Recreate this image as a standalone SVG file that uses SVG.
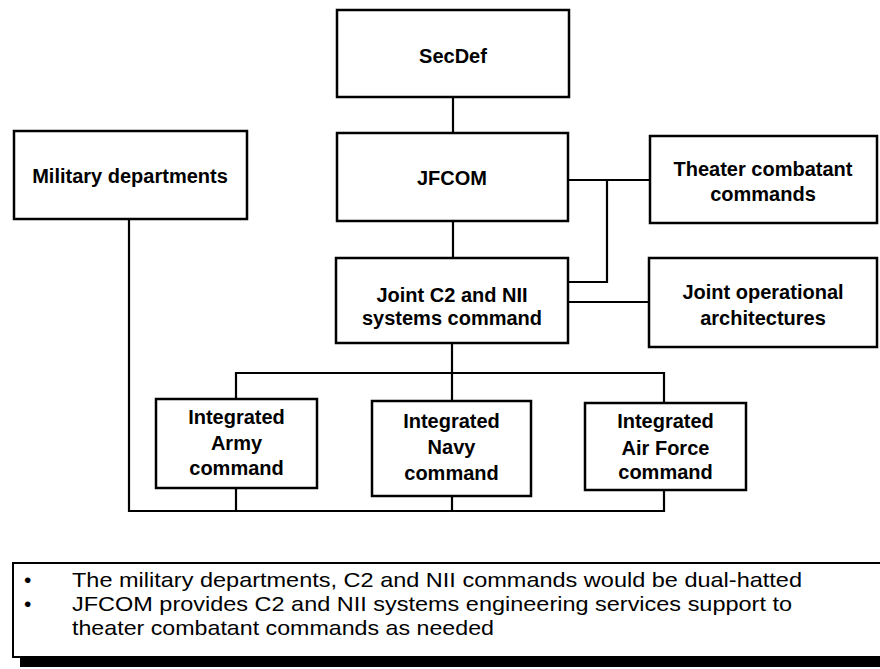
<svg xmlns="http://www.w3.org/2000/svg" width="880" height="669" viewBox="0 0 880 669">
<style>
.box{fill:#fff;stroke:#000;stroke-width:2.5}
.lbl{font-family:"Liberation Sans",Arial,sans-serif;font-weight:bold;font-size:20px;text-anchor:middle;fill:#000}
.note{font-family:"Liberation Sans",Arial,sans-serif;font-size:21px;fill:#000}
.conn{fill:none;stroke:#000;stroke-width:2.2}
</style>
<rect width="880" height="669" fill="#fff"/>
<g id="connectors">
<path class="conn" d="M453,97 V133"/>
<path class="conn" d="M453,221 V258"/>
<path class="conn" d="M568,180 H650"/>
<path class="conn" d="M607,180 V282 H568"/>
<path class="conn" d="M568,302 H649"/>
<path class="conn" d="M452,343 V401"/>
<path class="conn" d="M236,399 V373 H664 V403"/>
<path class="conn" d="M129,219 V511 H664 V490"/>
<path class="conn" d="M236,488 V511"/>
<path class="conn" d="M452,496 V511"/>
</g>
<g id="secdef">
<rect class="box" x="337" y="10" width="232" height="87"/>
<text class="lbl" x="453" y="63">SecDef</text>
</g>
<g id="jfcom">
<rect class="box" x="337" y="133" width="231" height="88"/>
<text class="lbl" x="452" y="185">JFCOM</text>
</g>
<g id="military">
<rect class="box" x="14" y="131" width="233" height="88"/>
<text class="lbl" x="130" y="183">Military departments</text>
</g>
<g id="theater">
<rect class="box" x="650" y="136" width="227" height="87"/>
<text class="lbl" x="763" y="176">Theater combatant</text>
<text class="lbl" x="763" y="201">commands</text>
</g>
<g id="jointc2">
<rect class="box" x="336" y="258" width="232" height="85"/>
<text class="lbl" x="452" y="302">Joint C2 and NII</text>
<text class="lbl" x="452" y="325">systems command</text>
</g>
<g id="jointops">
<rect class="box" x="649" y="258" width="228" height="89"/>
<text class="lbl" x="763" y="299">Joint operational</text>
<text class="lbl" x="763" y="325">architectures</text>
</g>
<g id="army">
<rect class="box" x="156" y="399" width="161" height="89"/>
<text class="lbl" x="236.5" y="424">Integrated</text>
<text class="lbl" x="236.5" y="450">Army</text>
<text class="lbl" x="236.5" y="475">command</text>
</g>
<g id="navy">
<rect class="box" x="372" y="401" width="159" height="95"/>
<text class="lbl" x="451.5" y="428">Integrated</text>
<text class="lbl" x="451.5" y="454">Navy</text>
<text class="lbl" x="451.5" y="480">command</text>
</g>
<g id="airforce">
<rect class="box" x="585" y="403" width="161" height="87"/>
<text class="lbl" x="665.5" y="428">Integrated</text>
<text class="lbl" x="665.5" y="455">Air Force</text>
<text class="lbl" x="665.5" y="479">command</text>
</g>
<g id="notes">
<rect x="13" y="563" width="880" height="94" fill="#fff" stroke="#000" stroke-width="2"/>
<rect x="20" y="657" width="860" height="10" fill="#000"/>
<text class="note" x="24" y="587">•</text>
<text class="note" x="24" y="611">•</text>
<text class="note" x="72" y="587" textLength="730" lengthAdjust="spacingAndGlyphs">The military departments, C2 and NII commands would be dual-hatted</text>
<text class="note" x="72" y="611" textLength="720" lengthAdjust="spacingAndGlyphs">JFCOM provides C2 and NII systems engineering services support to</text>
<text class="note" x="72" y="635" textLength="422" lengthAdjust="spacingAndGlyphs">theater combatant commands as needed</text>
</g>
</svg>
